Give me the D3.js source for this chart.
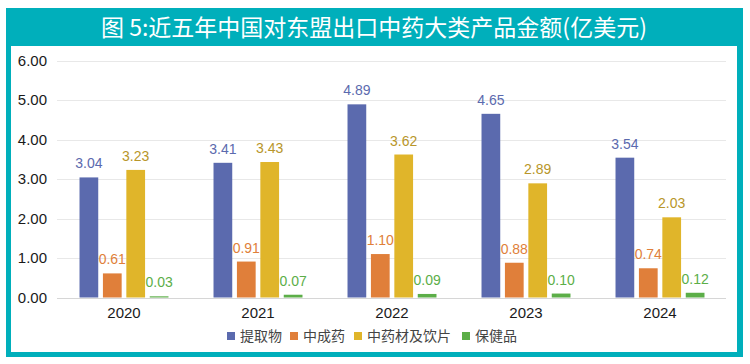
<!DOCTYPE html>
<html><head><meta charset="utf-8">
<script src="https://cdn.jsdelivr.net/npm/d3@7"></script>
<style>
html,body{margin:0;padding:0;background:#fff;}
svg{display:block;}
</style></head>
<body><svg id="c" width="750" height="364"></svg>
<script>
const title = "图 5:近五年中国对东盟出口中药大类产品金额(亿美元)";
const years = ["2020","2021","2022","2023","2024"];
const seriesNames = ["提取物","中成药","中药材及饮片","保健品"];
const extract = [3.04,3.41,4.89,4.65,3.54];
const patent = [0.61,0.91,1.10,0.88,0.74];
const herbs = [3.23,3.43,3.62,2.89,2.03];
const health = [0.03,0.07,0.09,0.10,0.12];
const yTicks = [0,1,2,3,4,5,6];
const barColors = ["#5b6aae","#e07f3a","#e0b52a","#5cae48"];
const labelColors = ["#5b6aae","#e07f3a","#b8962a","#5cae48"];

(function(){
const values = [extract, patent, herbs, health];
const svg = d3.select("#c");
const teal = "#00afbb";

// frame
svg.append("rect").attr("x",6).attr("y",8).attr("width",737).attr("height",349).attr("fill",teal);
svg.append("rect").attr("x",11).attr("y",46).attr("width",726).attr("height",306).attr("fill","#fff");
svg.append("text").attr("x",374).attr("y",36).attr("text-anchor","middle")
  .attr("fill","#fff").attr("font-family","'Noto Sans CJK SC',sans-serif")
  .attr("font-size",23).attr("font-weight",400).text(title);

const pLeft = 57, pRight = 727, pTop = 60.5, pBottom = 297.5;
const y = d3.scaleLinear().domain([0,6]).range([pBottom, pTop]);
const x0 = d3.scaleBand().domain(years).range([pLeft,pRight]).paddingInner(0.336).paddingOuter(0.168);
const x1 = d3.scaleBand().domain(d3.range(4)).range([0,x0.bandwidth()]).paddingInner(0.2);

// grid
svg.append("g").selectAll("line").data(yTicks).join("line")
  .attr("x1",pLeft).attr("x2",pRight-1)
  .attr("y1",d=>Math.round(y(d))+0.5).attr("y2",d=>Math.round(y(d))+0.5)
  .attr("stroke",d=>d===0?"#d6d6d6":"#e8e8e8").attr("stroke-width",1);

// y axis labels
const yAxis = d3.axisLeft(y).tickValues(yTicks).tickFormat(d3.format(".2f")).tickSize(0).tickPadding(0);
const ga = svg.append("g").attr("transform",`translate(47,0)`).call(yAxis);
ga.select(".domain").remove();
ga.selectAll("text").attr("font-family","'Liberation Sans',Arial,sans-serif").attr("font-size",15).attr("fill","#1a1a1a");

// x axis labels
const xAxis = d3.axisBottom(x0).tickSize(0).tickPadding(0);
const gx = svg.append("g").attr("transform",`translate(0,${pBottom+10})`).call(xAxis);
gx.select(".domain").remove();
gx.selectAll("text").attr("font-family","'Liberation Sans',Arial,sans-serif").attr("font-size",15).attr("fill","#1a1a1a");

// bars
const groups = svg.append("g").selectAll("g").data(years).join("g")
  .attr("transform",d=>`translate(${x0(d)},0)`);
groups.each(function(yr, i){
  const g = d3.select(this);
  values.forEach((arr, s)=>{
    const v = arr[i];
    g.append("rect").attr("x",x1(s)).attr("width",x1.bandwidth())
      .attr("y",y(v)).attr("height",pBottom - y(v)).attr("fill",barColors[s]);
    g.append("text").attr("x",x1(s)+x1.bandwidth()/2).attr("y",y(v)-9)
      .attr("text-anchor","middle").attr("font-family","'Liberation Sans',Arial,sans-serif")
      .attr("font-size",14).attr("fill",labelColors[s]).text(v.toFixed(2));
  });
});

// legend
const legendX = [227, 290, 354, 462];
const lg = svg.append("g").selectAll("g").data(seriesNames).join("g")
  .attr("transform",(d,i)=>`translate(${legendX[i]},336)`);
lg.append("rect").attr("x",0).attr("y",-4).attr("width",8).attr("height",8).attr("fill",(d,i)=>barColors[i]);
lg.append("text").attr("x",13).attr("y",5).attr("font-family","'Noto Sans CJK SC',sans-serif")
  .attr("font-size",14).attr("fill","#444").text(d=>d);
})();
</script>
</body></html>
